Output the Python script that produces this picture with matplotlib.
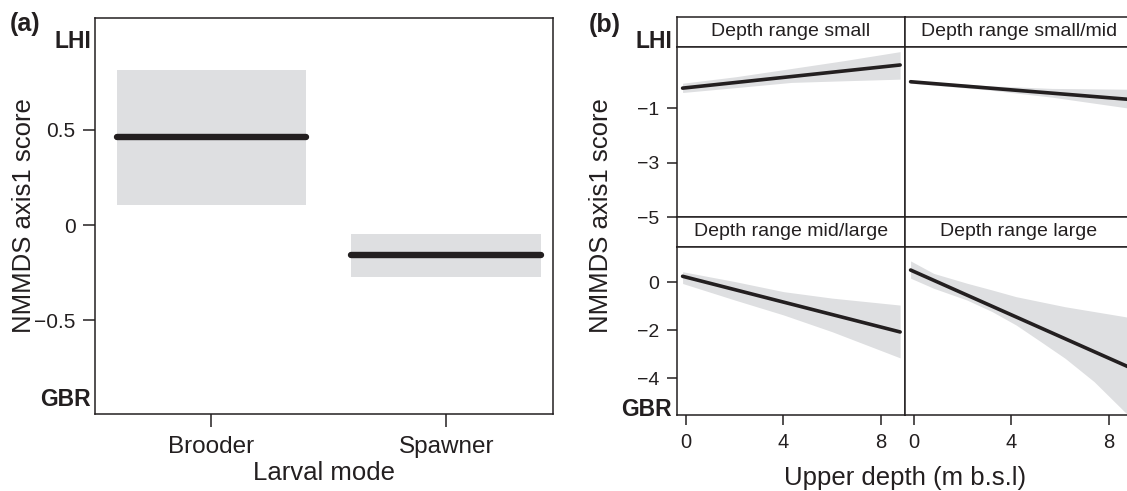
import matplotlib
matplotlib.use('Agg')
import matplotlib.pyplot as plt

plt.rcParams['font.family'] = ['Liberation Sans', 'DejaVu Sans']

# panel (a) data
cats = ['Brooder', 'Spawner']
fit_a = [0.46, -0.155]
lo_a = [0.105, -0.27]
hi_a = [0.81, -0.045]

# panel (b) data
titles = ['Depth range small', 'Depth range small/mid', 'Depth range mid/large', 'Depth range large']
line_x = [-0.15, 8.8]
line_small = [-0.27, 0.58]
line_smallmid = [-0.035, -0.68]
line_midlarge = [0.25, -2.07]
line_large = [0.51, -3.52]

band_x_small = [-0.15, 2.05, 4.32, 6.5, 8.8]
band_hi_small = [-0.09, 0.15, 0.45, 0.74, 1.07]
band_lo_small = [-0.43, -0.25, -0.06, 0.0, 0.06]

band_x_smallmid = [-0.15, 3.0, 5.66, 8.8]
band_hi_smallmid = [0.02, -0.18, -0.28, -0.31]
band_lo_smallmid = [-0.09, -0.33, -0.6, -1.0]

band_x_midlarge = [-0.15, 2.0, 4.0, 6.0, 8.8]
band_hi_midlarge = [0.44, 0.03, -0.39, -0.66, -0.95]
band_lo_midlarge = [-0.05, -0.74, -1.36, -2.06, -3.15]

band_x_large = [-0.15, 0.8, 2.17, 3.2, 4.19, 5.2, 6.21, 7.4, 8.65, 8.8]
band_hi_large = [0.89, 0.37, -0.04, -0.32, -0.6, -0.81, -1.02, -1.22, -1.43, -1.46]
band_lo_large = [0.17, -0.25, -0.74, -1.22, -1.78, -2.47, -3.17, -4.14, -5.39, -5.52]

ink = '#231f20'
band = '#dedfe1'
W, H = 1127, 491

def box(left, top, right, bottom):
    return [left / W, 1 - bottom / H, (right - left) / W, (bottom - top) / H]

fig = plt.figure(figsize=(W / 100, H / 100), dpi=100)

# ---- panel (a)
ax = fig.add_axes(box(95, 18, 553, 414))
xs = [1, 2]
for x, f, lo, hi in zip(xs, fit_a, lo_a, hi_a):
    ax.bar(x, hi - lo, bottom=lo, width=0.808, color=band, linewidth=0)
    ax.plot([x - 0.404, x + 0.404], [f, f], color=ink, lw=4.6, solid_capstyle='round')
ax.set_xlim(0.504, 2.454)
ax.set_ylim(-0.99, 1.085)
ax.set_xticks(xs)
ax.set_xticklabels(cats, fontsize=17.5, color=ink)
ax.set_yticks([0.5, 0, -0.5])
ax.set_yticklabels(['0.5', '0', '\u22120.5'], fontsize=15, color=ink)
ax.tick_params(length=9, width=1.1, color=ink, pad=5)
ax.tick_params(axis='x', pad=7)
for s in ax.spines.values():
    s.set_color(ink)
    s.set_linewidth(1.1)
ax.set_xlabel('Larval mode', fontsize=18.5, color=ink, labelpad=2)
fig.text(24 / W, 1 - 216 / H, 'NMMDS axis1 score', rotation=90, fontsize=18.5,
         color=ink, ha='center', va='center')
fig.text(10 / W, 1 - 23.5 / H, '(a)', fontsize=18, fontweight='bold', color=ink, va='center')
fig.text(91 / W, 1 - 41 / H, 'LHI', fontsize=16.5, fontweight='bold', color=ink, ha='right', va='center')
fig.text(91 / W, 1 - 399 / H, 'GBR', fontsize=16.5, fontweight='bold', color=ink, ha='right', va='center')

# ---- panel (b)
cols = [(677, 905), (905, 1133)]
rows = [(17, 47, 217), (217, 247, 415)]
lines = [line_small, line_smallmid, line_midlarge, line_large]
bands = [(band_x_small, band_lo_small, band_hi_small),
         (band_x_smallmid, band_lo_smallmid, band_hi_smallmid),
         (band_x_midlarge, band_lo_midlarge, band_hi_midlarge),
         (band_x_large, band_lo_large, band_hi_large)]
ylims = [(-5.0, 1.24), (-5.53, 1.47)]
yticks = [[-1, -3, -5], [0, -2, -4]]

for i in range(4):
    r, c = divmod(i, 2)
    st, pt, pb = rows[r]
    cl, cr = cols[c]
    sax = fig.add_axes(box(cl, st, cr, pt))
    sax.set_xticks([])
    sax.set_yticks([])
    for s in sax.spines.values():
        s.set_color(ink)
        s.set_linewidth(1.1)
    sax.text(0.5, 0.5, titles[i], transform=sax.transAxes, ha='center', va='center',
             fontsize=14, color=ink)

    pax = fig.add_axes(box(cl, pt, cr, pb))
    bx, blo, bhi = bands[i]
    pax.fill_between(bx, blo, bhi, color=band, linewidth=0)
    pax.plot(line_x, lines[i], color=ink, lw=2.6, solid_capstyle='round')
    pax.set_xlim(-0.38, 9.0)
    pax.set_ylim(*ylims[r])
    for s in pax.spines.values():
        s.set_color(ink)
        s.set_linewidth(1.1)
    pax.tick_params(length=7, width=1.1, color=ink, labelcolor=ink)
    if c == 0:
        pax.set_yticks(yticks[r])
        pax.set_yticklabels(['\u2212%d' % -v if v < 0 else '%d' % v for v in yticks[r]], fontsize=14)
        pax.tick_params(axis='y', pad=6)
    else:
        pax.set_yticks([])
    if r == 1:
        pax.set_xticks([0, 4, 8])
        pax.set_xticklabels(['0', '4', '8'], fontsize=14.5)
        pax.tick_params(axis='x', pad=6)
    else:
        pax.set_xticks([])

fig.text(905 / W, 1 - 478 / H, 'Upper depth (m b.s.l)', fontsize=18.5, color=ink, ha='center', va='center')
fig.text(601 / W, 1 - 216 / H, 'NMMDS axis1 score', rotation=90, fontsize=18.5,
         color=ink, ha='center', va='center')
fig.text(589 / W, 1 - 25 / H, '(b)', fontsize=18, fontweight='bold', color=ink, va='center')
fig.text(672 / W, 1 - 41.5 / H, 'LHI', fontsize=16.5, fontweight='bold', color=ink, ha='right', va='center')
fig.text(672 / W, 1 - 409 / H, 'GBR', fontsize=16.5, fontweight='bold', color=ink, ha='right', va='center')

fig.savefig('out.png', dpi=100)
